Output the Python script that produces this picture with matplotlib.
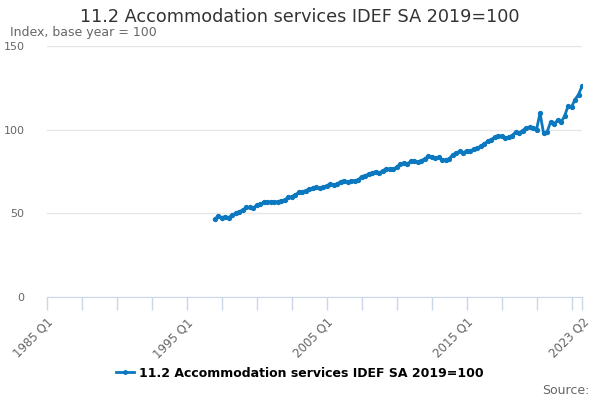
import matplotlib
matplotlib.use("Agg")
import matplotlib.pyplot as plt
from matplotlib.lines import Line2D

# quarters counted from 1985 Q1 = 0
start_q = 48  # 1997 Q1
values = [
    46.5, 48.5, 47.5, 48, 47.5, 49, 50, 51, 52, 53.5,
    53.5, 53, 55, 55.5, 56.5, 56.5, 57, 56.5, 57, 57.5,
    58, 59.5, 60, 61, 62.5, 63, 63.5, 64.5, 65, 65.5,
    65, 65.5, 66.5, 67.5, 67, 67.5, 69, 69.5, 68.5, 69.5,
    69.5, 70, 72, 72.5, 73.5, 74, 75, 74, 75.5, 76.5,
    76.5, 76.5, 77.5, 79.5, 80, 79.5, 81, 81, 80.5, 81.5,
    82.5, 84, 83.5, 83, 83.5, 82, 82, 82.5, 85, 86,
    87, 86, 87.5, 87, 88.5, 89, 90, 91.5, 93, 94,
    95.5, 96.5, 96, 95, 95.5, 96.5, 98.5, 98, 99.5, 101,
    101.5, 101, 100, 110, 98, 98.5, 104.5, 103.5, 105.5, 104.5,
    108, 114, 113.5, 118, 121, 126,
]
quarters = list(range(start_q, start_q + len(values)))

tick_pos = list(range(0, 151, 10)) + [153]
label_pos = [0, 40, 80, 120, 153]
label_txt = ["1985 Q1", "1995 Q1", "2005 Q1", "2015 Q1", "2023 Q2"]
y_ticks = [0, 50, 100, 150]

series_name = "11.2 Accommodation services IDEF SA 2019=100"
blue = "#0b78bf"

fig = plt.figure(figsize=(6, 4), dpi=100)
ax = fig.add_axes([0.078, 0.2575, 0.892, 0.6275])

ax.plot(quarters, values, color=blue, lw=2, marker="o", ms=2.8, zorder=3)

ax.set_xlim(0, 153)
ax.set_ylim(0, 150)
ax.set_yticks(y_ticks)
ax.set_yticklabels([str(v) for v in y_ticks], color="#666666", fontsize=8)
ax.tick_params(axis="y", length=0, pad=16)
ax.grid(axis="y", color="#e6e6e6", lw=1)
ax.set_axisbelow(True)

ax.set_xticks(tick_pos)
ax.set_xticklabels(["" for _ in tick_pos])
ax.tick_params(axis="x", length=9, width=1, color="#ccd6eb")
for p, t in zip(label_pos, label_txt):
    ax.text(p, -0.075, t, transform=ax.get_xaxis_transform(), rotation=45,
            ha="right", va="top", fontsize=8.5, color="#666666",
            rotation_mode="anchor")

for s in ["top", "right", "left"]:
    ax.spines[s].set_visible(False)
ax.spines["bottom"].set_color("#ccd6eb")

fig.text(0.5, 0.958, series_name, ha="center", va="center",
         fontsize=12.7, color="#333333")
fig.text(0.017, 0.918, "Index, base year = 100", ha="left", va="center",
         fontsize=9, color="#666666")

handle = Line2D([0], [0], color=blue, lw=2, marker="o", ms=2.5)
fig.legend([handle], [series_name], loc="center", bbox_to_anchor=(0.5, 0.067),
           frameon=False, handlelength=1.4, handletextpad=0.4,
           prop={"weight": "bold", "size": 9})
fig.text(0.982, 0.025, "Source:", ha="right", va="center", fontsize=9,
         color="#666666")

fig.savefig("out.png", dpi=100)
